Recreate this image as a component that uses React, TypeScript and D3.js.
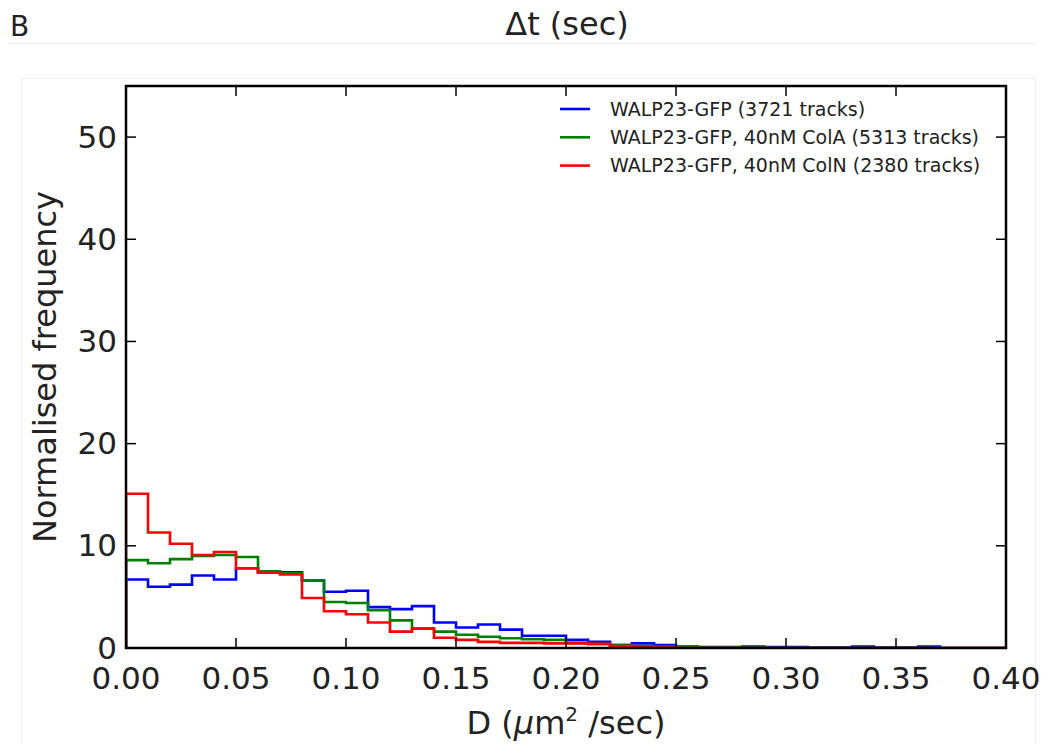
import React, { useEffect, useRef } from "react";
import * as d3 from "d3";

// Histogram bins: 0.00–0.40 µm²/s in steps of 0.01
const binEdges: number[] = d3.range(0, 41).map((i) => +(i * 0.01).toFixed(2));

// Normalised frequency per bin, one array per condition
const walp: number[] = [
  6.7, 6.0, 6.2, 7.1, 6.7, 7.8, 7.4, 7.4, 6.6, 5.5,
  5.6, 4.0, 3.8, 4.1, 2.5, 2.0, 2.3, 1.8, 1.2, 1.2,
  0.8, 0.6, 0.3, 0.45, 0.3, 0.15, 0.1, 0.1, 0.15, 0.1,
  0.1, 0.05, 0.05, 0.15, 0.05, 0.05, 0.15, 0, 0, 0,
];
const walpColA: number[] = [
  8.6, 8.3, 8.7, 9.0, 9.1, 8.9, 7.5, 7.3, 6.6, 4.5,
  4.4, 3.7, 2.7, 1.9, 1.6, 1.3, 1.1, 0.95, 0.85, 0.8,
  0.5, 0.4, 0.3, 0.2, 0.15, 0.1, 0.05, 0.05, 0.05, 0,
  0, 0, 0, 0, 0, 0, 0, 0, 0, 0,
];
const walpColN: number[] = [
  15.1, 11.3, 10.2, 9.1, 9.4, 7.8, 7.4, 7.2, 4.9, 3.6,
  3.3, 2.5, 1.6, 1.9, 1.0, 0.8, 0.6, 0.5, 0.5, 0.45,
  0.45, 0.4, 0.2, 0.1, 0.05, 0, 0, 0, 0, 0,
  0, 0, 0, 0, 0, 0, 0, 0, 0, 0,
];

const seriesLabels: string[] = [
  "WALP23-GFP (3721 tracks)",
  "WALP23-GFP, 40nM ColA (5313 tracks)",
  "WALP23-GFP, 40nM ColN (2380 tracks)",
];
const seriesColors: string[] = ["#0000ff", "#008000", "#ff0000"];
const seriesValues: number[][] = [walp, walpColA, walpColN];

const xTicks: number[] = [0, 0.05, 0.1, 0.15, 0.2, 0.25, 0.3, 0.35, 0.4];
const yTicks: number[] = [0, 10, 20, 30, 40, 50];

const W = 1049;
const H = 744;
const M = { left: 126, right: 1006, top: 86, bottom: 648 };
const FONT = "'DejaVu Sans', sans-serif";

export default function App() {
  const ref = useRef<SVGSVGElement | null>(null);

  useEffect(() => {
    document.body.style.margin = "0";
    const svg = d3.select(ref.current);
    svg.selectAll("*").remove();

    const x = d3.scaleLinear().domain([0, 0.4]).range([M.left, M.right]);
    const y = d3.scaleLinear().domain([0, 55]).range([M.bottom, M.top]);

    svg.append("rect").attr("width", W).attr("height", H).attr("fill", "#fff");

    // faint panel borders around the figure
    svg.append("line")
      .attr("x1", 8).attr("x2", 1036).attr("y1", 43.5).attr("y2", 43.5)
      .attr("stroke", "#ececec").attr("stroke-width", 1);
    svg.append("path")
      .attr("d", "M21.5,744 V78.5 H1035.5 V744")
      .attr("fill", "none").attr("stroke", "#f1f1f1").attr("stroke-width", 1);

    // header
    svg.append("text").attr("x", 10).attr("y", 36)
      .attr("font-family", FONT).attr("font-size", 28).attr("fill", "#222")
      .text("B");
    svg.append("text").attr("x", 567).attr("y", 35)
      .attr("text-anchor", "middle")
      .attr("font-family", FONT).attr("font-size", 32).attr("fill", "#222")
      .text("\u0394t (sec)");

    const defs = svg.append("defs");
    defs.append("clipPath").attr("id", "plot-clip")
      .append("rect")
      .attr("x", M.left).attr("y", M.top)
      .attr("width", M.right - M.left).attr("height", M.bottom - M.top);

    // step histograms
    const line = d3.line<[number, number]>()
      .x((d) => x(d[0]))
      .y((d) => y(d[1]))
      .curve(d3.curveStepAfter);

    const g = svg.append("g").attr("clip-path", "url(#plot-clip)");
    seriesValues.forEach((vals, i) => {
      const pts: [number, number][] = [[binEdges[0], 0]];
      vals.forEach((v, k) => pts.push([binEdges[k], v]));
      pts.push([binEdges[binEdges.length - 1], vals[vals.length - 1]]);
      pts.push([binEdges[binEdges.length - 1], 0]);
      g.append("path")
        .attr("d", line(pts) as string)
        .attr("fill", "none")
        .attr("stroke", seriesColors[i])
        .attr("stroke-width", 2.6)
        .attr("stroke-linejoin", "miter");
    });

    // ticks on all four sides, pointing inward
    const tickLen = 10;
    const ax = svg.append("g").attr("stroke", "#000").attr("stroke-width", 1.5);
    xTicks.forEach((t) => {
      ax.append("line").attr("x1", x(t)).attr("x2", x(t))
        .attr("y1", M.bottom).attr("y2", M.bottom - tickLen);
      ax.append("line").attr("x1", x(t)).attr("x2", x(t))
        .attr("y1", M.top).attr("y2", M.top + tickLen);
    });
    yTicks.forEach((t) => {
      ax.append("line").attr("x1", M.left).attr("x2", M.left + tickLen)
        .attr("y1", y(t)).attr("y2", y(t));
      ax.append("line").attr("x1", M.right).attr("x2", M.right - tickLen)
        .attr("y1", y(t)).attr("y2", y(t));
    });

    // frame
    svg.append("rect")
      .attr("x", M.left).attr("y", M.top)
      .attr("width", M.right - M.left).attr("height", M.bottom - M.top)
      .attr("fill", "none").attr("stroke", "#000").attr("stroke-width", 2.5);

    // tick labels
    svg.append("g").selectAll("text").data(xTicks).join("text")
      .attr("x", (d) => x(d)).attr("y", 689)
      .attr("text-anchor", "middle")
      .attr("font-family", FONT).attr("font-size", 31).attr("fill", "#222")
      .text((d) => d3.format(".2f")(d));
    svg.append("g").selectAll("text").data(yTicks).join("text")
      .attr("x", M.left - 9).attr("y", (d) => y(d))
      .attr("dy", "0.34em")
      .attr("text-anchor", "end")
      .attr("font-family", FONT).attr("font-size", 31).attr("fill", "#222")
      .text((d) => String(d));

    // axis labels
    const xl = svg.append("text")
      .attr("x", (M.left + M.right) / 2).attr("y", 734)
      .attr("text-anchor", "middle")
      .attr("font-family", FONT).attr("font-size", 32).attr("fill", "#222");
    xl.append("tspan").text("D (");
    xl.append("tspan").attr("font-style", "italic").text("\u03bc");
    xl.append("tspan").text("m");
    xl.append("tspan").attr("font-size", 20).attr("dy", -13).text("2");
    xl.append("tspan").attr("dy", 13).text(" /sec)");

    svg.append("text")
      .attr("transform", `translate(56,${(M.top + M.bottom) / 2}) rotate(-90)`)
      .attr("text-anchor", "middle")
      .attr("font-family", FONT).attr("font-size", 32).attr("fill", "#222")
      .text("Normalised frequency");

    // legend
    const lg = svg.append("g");
    seriesLabels.forEach((lab, i) => {
      const yy = 109 + i * 28.3;
      lg.append("line").attr("x1", 560).attr("x2", 590)
        .attr("y1", yy).attr("y2", yy)
        .attr("stroke", seriesColors[i]).attr("stroke-width", 2.6);
      lg.append("text").attr("x", 610).attr("y", yy).attr("dy", "0.36em")
        .attr("font-family", FONT).attr("font-size", 19).attr("fill", "#222")
        .text(lab);
    });
  }, []);

  return <svg ref={ref} width={W} height={H} style={{ display: "block" }} />;
}
